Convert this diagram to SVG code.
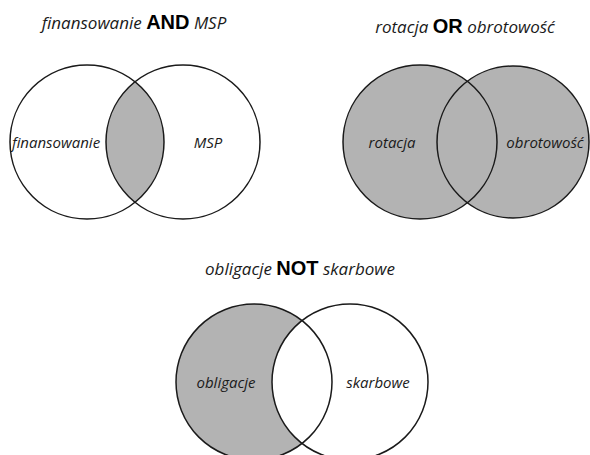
<svg xmlns="http://www.w3.org/2000/svg" width="590" height="455" viewBox="0 0 590 455">
<style>
.c{fill:none;stroke:#1a1a1a;stroke-width:1.5}
.g{fill:#b3b3b3;stroke:none}
.w{fill:#ffffff;stroke:none}
.t{font-family:"Open Sans","Noto Sans",sans-serif;font-style:italic;font-size:17px;fill:#1a1a1a}
.b{font-family:"Liberation Sans",Arial,sans-serif;font-style:normal;font-weight:bold;font-size:20px;fill:#000}
.l{font-family:"Open Sans","Noto Sans",sans-serif;font-style:italic;font-size:15px;fill:#1a1a1a}
</style>
<defs>
<clipPath id="clipA"><circle cx="87" cy="142" r="77"/></clipPath>
</defs>
<rect width="590" height="455" fill="#ffffff"/>
<g id="and">
<text class="t" x="134" y="29" text-anchor="middle">finansowanie <tspan class="b">AND</tspan> MSP</text>
<circle class="w" cx="87" cy="142" r="77"/>
<circle class="w" cx="183" cy="142" r="77"/>
<circle class="g" cx="183" cy="142" r="77" clip-path="url(#clipA)"/>
<circle class="c" cx="87" cy="142" r="77"/>
<circle class="c" cx="183" cy="142" r="77"/>
<text class="l" x="56" y="148" text-anchor="middle">finansowanie</text>
<text class="l" x="208" y="148" text-anchor="middle">MSP</text>
</g>
<g id="or">
<text class="t" x="465" y="33" text-anchor="middle">rotacja <tspan class="b">OR</tspan> obrotowość</text>
<circle class="g" cx="420" cy="142" r="77"/>
<circle class="g" cx="513" cy="142" r="76"/>
<circle class="c" cx="420" cy="142" r="77"/>
<circle class="c" cx="513" cy="142" r="76"/>
<text class="l" x="392" y="148" text-anchor="middle">rotacja</text>
<text class="l" x="545" y="148" text-anchor="middle">obrotowość</text>
</g>
<g id="not">
<text class="t" x="300" y="275" text-anchor="middle">obligacje <tspan class="b">NOT</tspan> skarbowe</text>
<circle class="g" cx="254" cy="382" r="78"/>
<circle class="w" cx="350" cy="382" r="78"/>
<circle class="c" cx="254" cy="382" r="78"/>
<circle class="c" cx="350" cy="382" r="78"/>
<text class="l" x="226" y="388" text-anchor="middle">obligacje</text>
<text class="l" x="378" y="388" text-anchor="middle">skarbowe</text>
</g>
</svg>
